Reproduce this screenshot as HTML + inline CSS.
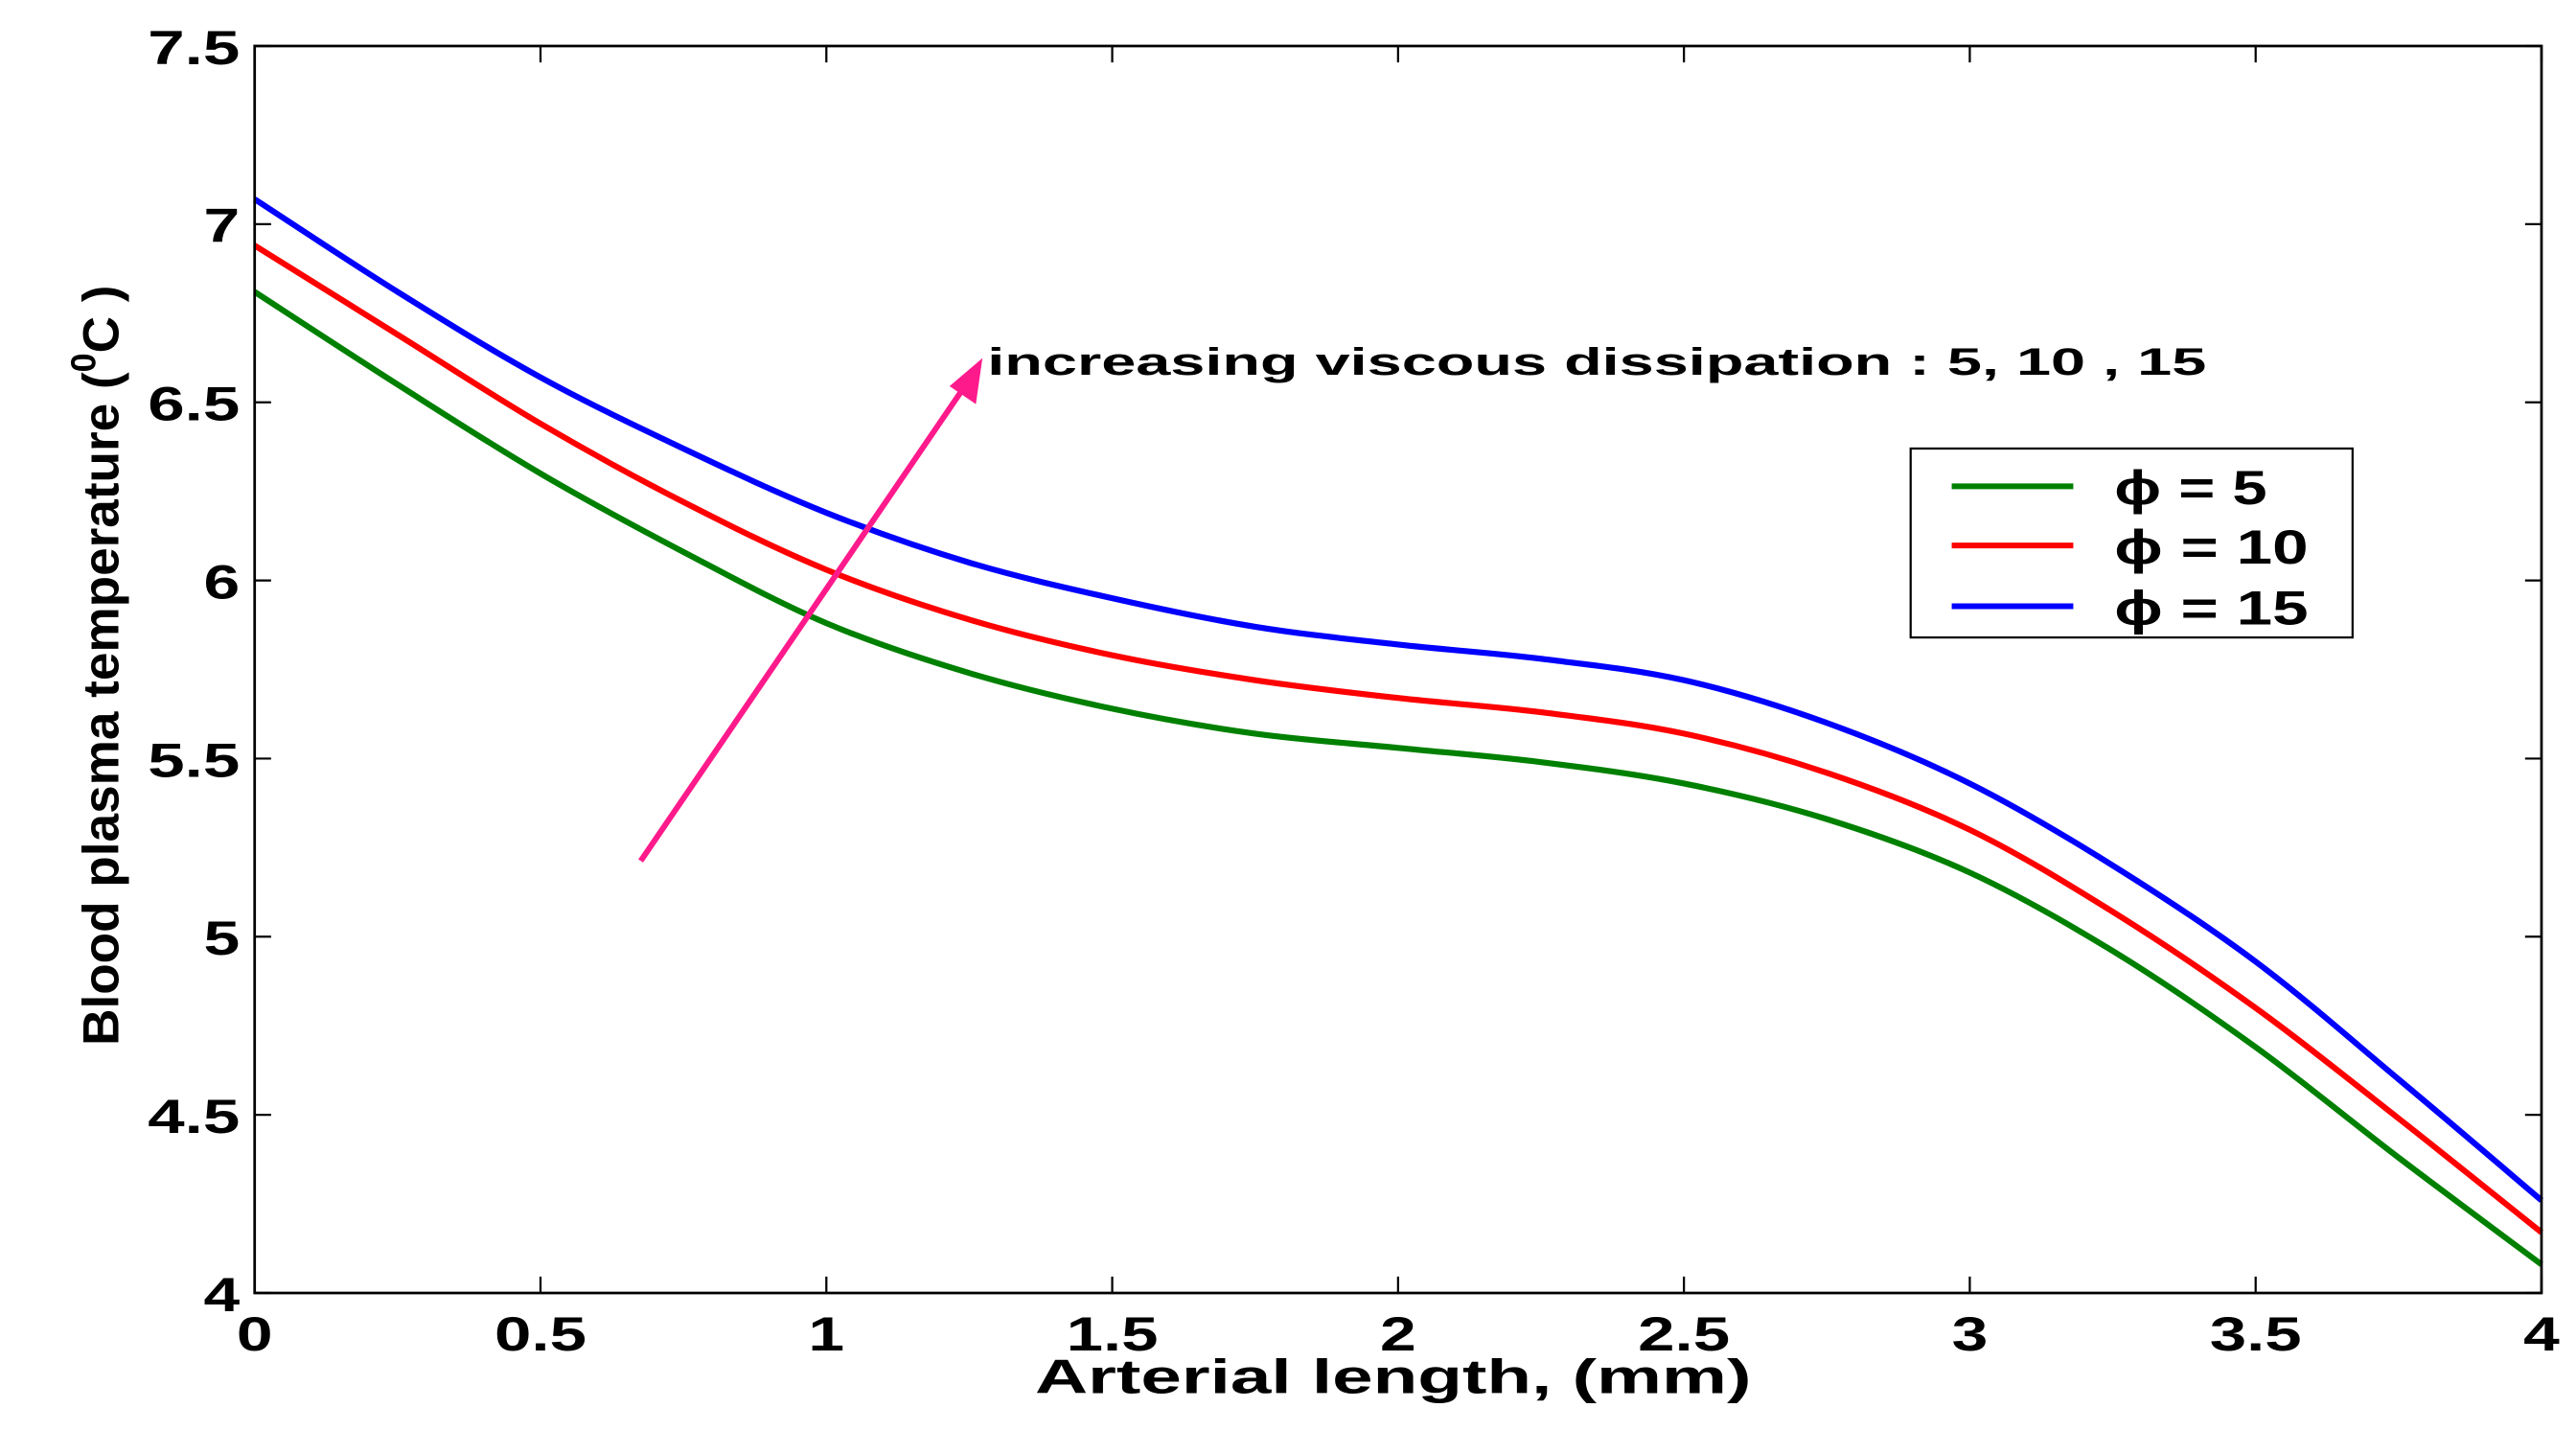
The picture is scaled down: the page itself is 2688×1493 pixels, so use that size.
<!DOCTYPE html>
<html><head><meta charset="utf-8"><style>
html,body{margin:0;padding:0;background:#fff;}
svg{display:block;}
text{font-family:"Liberation Sans",sans-serif;font-weight:bold;fill:#000;}
</style></head><body>
<svg id="chart" width="2688" height="1493" viewBox="0 0 1568 871" preserveAspectRatio="none" xmlns="http://www.w3.org/2000/svg">
<rect x="0" y="0" width="1568" height="871" fill="#fff"/>
<g id="marks"></g>
<rect x="155" y="28" width="1392" height="759" fill="none" stroke="#000" stroke-width="1.6"/>
<g id="ticks"></g>
<line x1="390" y1="524" x2="588" y2="234" stroke="#ff1a8c" stroke-width="3.5"/>
<polygon points="598,218 594,246 578,235" fill="#ff1a8c"/>
<text x="601" y="228" font-size="23" textLength="742" lengthAdjust="spacingAndGlyphs">increasing  viscous dissipation : 5, 10 , 15</text>
<g>
<rect x="1163" y="273" width="269" height="115" fill="#fff" stroke="#000" stroke-width="1.3"/>
<line x1="1188" y1="296" x2="1262" y2="296" stroke="#008000" stroke-width="3.5"/>
<line x1="1188" y1="332" x2="1262" y2="332" stroke="#ff0000" stroke-width="3.5"/>
<line x1="1188" y1="369" x2="1262" y2="369" stroke="#0000ff" stroke-width="3.5"/>
<text x="1287" y="307" font-size="29" textLength="93" lengthAdjust="spacingAndGlyphs">ϕ = 5</text>
<text x="1287" y="343" font-size="29" textLength="118" lengthAdjust="spacingAndGlyphs">ϕ = 10</text>
<text x="1287" y="380" font-size="29" textLength="118" lengthAdjust="spacingAndGlyphs">ϕ = 15</text>
</g>
<text x="848" y="848" font-size="29" text-anchor="middle" textLength="436" lengthAdjust="spacingAndGlyphs">Arterial length,  (mm)</text>
<text transform="translate(72,405) rotate(-90)" font-size="31" text-anchor="middle">Blood plasma temperature (<tspan font-size="21" dy="-14">0</tspan><tspan dy="14">C )</tspan></text>
</svg>
<script>
const xs = [0,0.25,0.5,0.75,1,1.25,1.5,1.75,2,2.25,2.5,2.75,3,3.25,3.5,3.75,4];
const phi5 = [6.81,6.55,6.30,6.08,5.88,5.74,5.64,5.57,5.53,5.49,5.43,5.33,5.18,4.96,4.69,4.38,4.08];
const phi10 = [6.94,6.69,6.44,6.22,6.03,5.89,5.79,5.72,5.67,5.63,5.57,5.46,5.30,5.07,4.80,4.49,4.17];
const phi15 = [7.07,6.81,6.57,6.37,6.19,6.05,5.95,5.87,5.82,5.78,5.72,5.60,5.43,5.20,4.93,4.60,4.26];
const xTicks = [0,0.5,1,1.5,2,2.5,3,3.5,4];
const xTickLabels = ["0","0.5","1","1.5","2","2.5","3","3.5","4"];
const yTicks = [4,4.5,5,5.5,6,6.5,7,7.5];
const yTickLabels = ["4","4.5","5","5.5","6","6.5","7","7.5"];
const NS = "http://www.w3.org/2000/svg";
const X = v => 155 + (v - 0) / 4 * 1392;
const Y = v => 787 - (v - 4) / 3.5 * 759;
function path(ys){
  const p = xs.map((x,i)=>[X(x),Y(ys[i])]);
  let d = `M${p[0][0]},${p[0][1]}`;
  for(let i=0;i<p.length-1;i++){
    const p0=p[Math.max(i-1,0)],p1=p[i],p2=p[i+1],p3=p[Math.min(i+2,p.length-1)];
    const c1=[p1[0]+(p2[0]-p0[0])/6,p1[1]+(p2[1]-p0[1])/6];
    const c2=[p2[0]-(p3[0]-p1[0])/6,p2[1]-(p3[1]-p1[1])/6];
    d+=` C${c1[0]},${c1[1]} ${c2[0]},${c2[1]} ${p2[0]},${p2[1]}`;
  }
  return d;
}
const marks = document.getElementById('marks');
[[phi5,'#008000','series-phi5'],[phi10,'#ff0000','series-phi10'],[phi15,'#0000ff','series-phi15']].forEach(s=>{
  const el = document.createElementNS(NS,'path');
  el.setAttribute('d',path(s[0]));
  el.setAttribute('fill','none');
  el.setAttribute('stroke',s[1]);
  el.setAttribute('stroke-width','3.6');
  
  
  marks.appendChild(el);
});
const tg = document.getElementById('ticks');
function line(x1,y1,x2,y2){
  const l=document.createElementNS(NS,'line');
  l.setAttribute('x1',x1);l.setAttribute('y1',y1);l.setAttribute('x2',x2);l.setAttribute('y2',y2);
  l.setAttribute('stroke','#000');l.setAttribute('stroke-width','1.3');
  
  
  tg.appendChild(l);
}
function labelLen(s){ let w=0; for(const c of s) w += (c==='.')?12:22; return w; }
xTicks.forEach((v,i)=>{
  const x=X(v);
  line(x,787,x,777); line(x,28,x,38);
  const t=document.createElementNS(NS,'text');
  t.setAttribute('x',x);t.setAttribute('y',822);t.setAttribute('font-size','29');t.setAttribute('text-anchor','middle');
  t.setAttribute('textLength',labelLen(xTickLabels[i]));t.setAttribute('lengthAdjust','spacingAndGlyphs');
  t.textContent=xTickLabels[i];
  
  
  tg.appendChild(t);
});
yTicks.forEach((v,i)=>{
  const y=Y(v);
  line(155,y,165,y); line(1547,y,1537,y);
  const t=document.createElementNS(NS,'text');
  t.setAttribute('x',146);t.setAttribute('y',y+11);t.setAttribute('font-size','29');t.setAttribute('text-anchor','end');
  t.setAttribute('textLength',labelLen(yTickLabels[i]));t.setAttribute('lengthAdjust','spacingAndGlyphs');
  t.textContent=yTickLabels[i];
  
  
  tg.appendChild(t);
});
</script>
</body></html>
